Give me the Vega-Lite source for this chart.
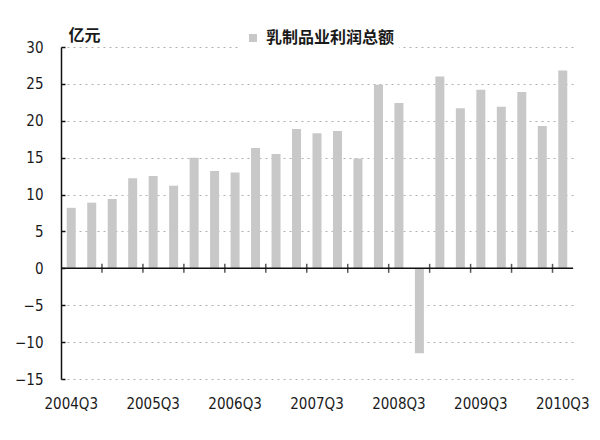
{
  "$schema": "https://vega.github.io/schema/vega-lite/v6.json",
  "width": 512,
  "height": 332,
  "autosize": "none",
  "padding": {"left": 61, "top": 47, "right": 27, "bottom": 61},
  "background": "white",
  "config": {"view": {"stroke": null}, "font": "DejaVu Sans Condensed"},
  "datasets": {
    "profit": [
      {"q": "2004Q3", "v": 8.2},
      {"q": "2004Q4", "v": 8.9},
      {"q": "2005Q1", "v": 9.4},
      {"q": "2005Q2", "v": 12.2},
      {"q": "2005Q3", "v": 12.5},
      {"q": "2005Q4", "v": 11.2},
      {"q": "2006Q1", "v": 15.0},
      {"q": "2006Q2", "v": 13.2},
      {"q": "2006Q3", "v": 13.0},
      {"q": "2006Q4", "v": 16.3},
      {"q": "2007Q1", "v": 15.5},
      {"q": "2007Q2", "v": 18.9},
      {"q": "2007Q3", "v": 18.3},
      {"q": "2007Q4", "v": 18.6},
      {"q": "2008Q1", "v": 14.9},
      {"q": "2008Q2", "v": 24.9},
      {"q": "2008Q3", "v": 22.4},
      {"q": "2008Q4", "v": -11.5},
      {"q": "2009Q1", "v": 26.0},
      {"q": "2009Q2", "v": 21.7},
      {"q": "2009Q3", "v": 24.2},
      {"q": "2009Q4", "v": 21.9},
      {"q": "2010Q1", "v": 23.9},
      {"q": "2010Q2", "v": 19.3},
      {"q": "2010Q3", "v": 26.8}
    ],
    "ticks": [
      {"q": "2005Q1"}, {"q": "2005Q3"}, {"q": "2006Q1"}, {"q": "2006Q3"},
      {"q": "2007Q1"}, {"q": "2007Q3"}, {"q": "2008Q1"}, {"q": "2008Q3"},
      {"q": "2009Q1"}, {"q": "2009Q3"}, {"q": "2010Q1"}, {"q": "2010Q3"}
    ]
  },
  "layer": [
    {
      "data": {"name": "profit"},
      "mark": {"type": "bar", "size": 9},
      "encoding": {
        "x": {
          "field": "q", "type": "ordinal",
          "scale": {"paddingInner": 0, "paddingOuter": 0},
          "axis": {
            "values": ["2004Q3", "2005Q3", "2006Q3", "2007Q3", "2008Q3", "2009Q3", "2010Q3"],
            "title": null, "ticks": false, "domain": false, "grid": false,
            "labelAngle": 0, "labelPadding": 17, "labelFontSize": 15, "labelOverlap": false,
            "labelColor": "#1a1a1a"
          }
        },
        "y": {
          "field": "v", "type": "quantitative",
          "scale": {"domain": [-15, 30], "nice": false},
          "axis": {
            "values": [-15, -10, -5, 0, 5, 10, 15, 20, 25, 30],
            "tickCount": 20,
            "labelOverlap": false,
            "title": "亿元", "titleAngle": 0, "titleAlign": "left", "titleBaseline": "alphabetic",
            "titleX": 7, "titleY": -7, "titleFont": "Noto Sans CJK SC", "titleFontSize": 16,
            "titleFontWeight": "bold", "titleColor": "#1a1a1a",
            "grid": true, "gridDash": [2, 4], "gridColor": "#b0b0b0", "gridWidth": 1,
            "domain": true, "domainColor": "#111", "domainWidth": 1.5,
            "ticks": true, "tickSize": -4, "tickColor": "#111", "tickWidth": 1.5,
            "labelPadding": 22, "labelFontSize": 15, "labelColor": "#1a1a1a"
          }
        },
        "color": {
          "datum": "乳制品业利润总额",
          "scale": {"range": ["#c8c8c8"]},
          "legend": {
            "title": null, "orient": "none", "legendX": 180, "legendY": -21,
            "fillColor": "white", "padding": 4, "symbolType": "square", "symbolSize": 64,
            "symbolStrokeWidth": 0, "labelFont": "Noto Sans CJK SC", "labelFontSize": 16,
            "labelFontWeight": "bold", "labelColor": "#1a1a1a", "labelOffset": 5
          }
        }
      }
    },
    {
      "data": {"values": [{}]},
      "mark": {"type": "rule", "color": "#111", "strokeWidth": 1.5},
      "encoding": {"y": {"datum": 0}}
    },
    {
      "data": {"name": "ticks"},
      "mark": {"type": "tick", "orient": "vertical", "color": "#111", "size": 9, "thickness": 1.5},
      "encoding": {
        "x": {"field": "q", "type": "ordinal", "bandPosition": 0},
        "y": {"datum": 0}
      }
    }
  ]
}
